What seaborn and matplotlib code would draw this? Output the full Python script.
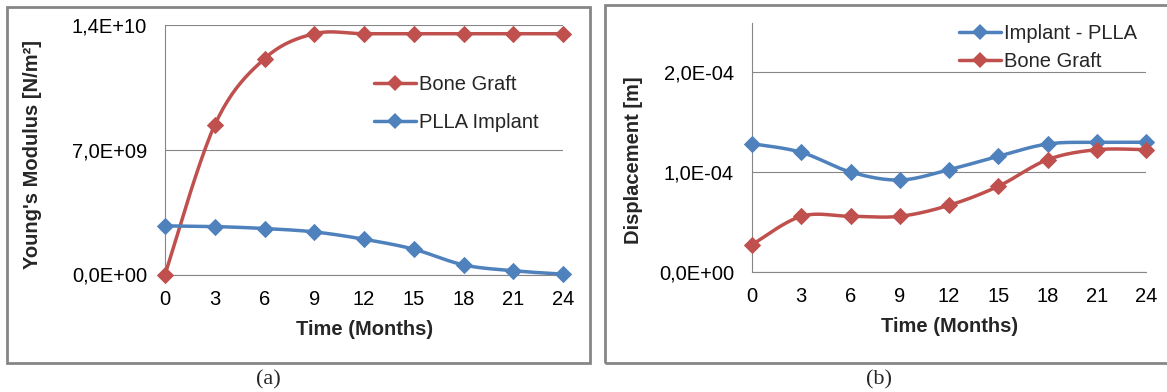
import numpy as np
import pandas as pd
import matplotlib
matplotlib.use("Agg")
import matplotlib.pyplot as plt
from matplotlib.lines import Line2D
from matplotlib.patches import Rectangle
from matplotlib.ticker import FixedLocator, FuncFormatter
import seaborn as sns

# data
months = [0, 3, 6, 9, 12, 15, 18, 21, 24]

# (a) Young's modulus [N/m2]
modulus_bone = [0.0, 8.39e9, 1.211e10, 1.351e10, 1.351e10, 1.351e10, 1.351e10, 1.351e10, 1.351e10]
modulus_plla = [2.73e9, 2.69e9, 2.58e9, 2.39e9, 1.98e9, 1.42e9, 0.54e9, 0.21e9, 0.02e9]

# (b) displacement [m]
disp_implant = [1.283e-4, 1.197e-4, 1.0e-4, 0.92e-4, 1.023e-4, 1.157e-4, 1.28e-4, 1.297e-4, 1.297e-4]
disp_bone = [0.273e-4, 0.557e-4, 0.557e-4, 0.557e-4, 0.667e-4, 0.857e-4, 1.123e-4, 1.223e-4, 1.223e-4]

RED = "#C0504D"
BLUE = "#4F81BD"
GRID = "#868686"

sns.set_theme(style="white")
plt.rcParams['font.family'] = ['Liberation Sans', 'DejaVu Sans']
FS = 14.5


def smooth(x, y, n=24):
    # Excel-style smoothed line: bezier through the points, only for drawing the line
    x = np.asarray(x, float)
    y = np.asarray(y, float)
    px = np.r_[x[0], x, x[-1]]
    py = np.r_[y[0], y, y[-1]]
    t = np.linspace(0, 1, n)[:, None]
    segs = []
    for i in range(len(x) - 1):
        p0 = np.array([px[i], py[i]])
        p1 = np.array([px[i + 1], py[i + 1]])
        p2 = np.array([px[i + 2], py[i + 2]])
        p3 = np.array([px[i + 3], py[i + 3]])
        c1 = p1 + (p2 - p0) / 6
        c2 = p2 - (p3 - p1) / 6
        b = ((1 - t) ** 3) * p1 + 3 * ((1 - t) ** 2) * t * c1 + 3 * (1 - t) * t ** 2 * c2 + t ** 3 * p2
        segs.append(b if i == 0 else b[1:])
    pts = np.vstack(segs)
    return pd.DataFrame({"x": pts[:, 0], "y": pts[:, 1]})


def draw_series(ax, x, y, color):
    sm = smooth(x, y)
    sns.lineplot(data=sm, x="x", y="y", ax=ax, color=color, lw=2.5, sort=False,
                 estimator=None, solid_joinstyle="round", solid_capstyle="round")
    sns.scatterplot(x=x, y=y, ax=ax, color=color, marker="D", s=78, linewidth=0,
                    zorder=5, clip_on=False)


def fmt(v, pos):
    return f"{v:.1E}".replace(".", ",")


def style_axes(ax, yticks, ylim):
    ax.set_xlim(0, 24)
    ax.set_ylim(*ylim)
    ax.xaxis.set_major_locator(FixedLocator(months))
    ax.yaxis.set_major_locator(FixedLocator(yticks))
    ax.yaxis.set_major_formatter(FuncFormatter(fmt))
    ax.grid(axis="y", color=GRID, lw=0.8)
    ax.grid(axis="x", visible=False)
    for s in ["top", "right"]:
        ax.spines[s].set_visible(False)
    for s in ["left", "bottom"]:
        ax.spines[s].set_color(GRID)
        ax.spines[s].set_linewidth(0.8)
    ax.tick_params(axis="x", length=0, pad=11, labelsize=FS, colors="black")
    ax.tick_params(axis="y", length=0, pad=13, labelsize=FS, colors="black")
    ax.set_axisbelow(True)


fig = plt.figure(figsize=(11.67, 3.92), dpi=100)
W, H = 1167, 392

# frames around each panel
fig.add_artist(Rectangle((7 / W, 1 - 363 / H), 583 / W, 356 / H, transform=fig.transFigure,
                         fill=False, edgecolor=GRID, lw=2.0))
fig.add_artist(Rectangle((605 / W, 1 - 363 / H), 600 / W, 358 / H, transform=fig.transFigure,
                         fill=False, edgecolor=GRID, lw=2.0))

# (a)
ax1 = fig.add_axes([165 / W, 1 - 274.5 / H, 398 / W, 249.5 / H])
draw_series(ax1, months, modulus_bone, RED)
draw_series(ax1, months, modulus_plla, BLUE)
style_axes(ax1, [0, 7e9, 1.4e10], (0, 1.4e10))
ax1.set_xlabel("Time (Months)", fontsize=FS, fontweight="bold", va="center")
ax1.xaxis.set_label_coords(0.5025, -0.222)
ax1.set_ylabel("Young's Modulus [N/m²]", fontsize=FS, fontweight="bold", va="center")
ax1.yaxis.set_label_coords(-0.332, 0.479)
h1 = [Line2D([], [], color=RED, lw=2.5, marker="D", ms=8, mew=0),
      Line2D([], [], color=BLUE, lw=2.5, marker="D", ms=8, mew=0)]
ax1.legend(h1, ["Bone Graft", "PLLA Implant"], loc="upper left", frameon=False, fontsize=FS,
           bbox_to_anchor=(374 / W, 1 - 75 / H), bbox_transform=fig.transFigure,
           borderaxespad=0, borderpad=0, handlelength=2.1, handletextpad=0.15, labelspacing=0.95)

# (b)
ax2 = fig.add_axes([752 / W, 1 - 272 / H, 394 / W, 249 / H])
draw_series(ax2, months, disp_implant, BLUE)
draw_series(ax2, months, disp_bone, RED)
style_axes(ax2, [0, 1e-4, 2e-4], (0, 2.49e-4))
ax2.set_xlabel("Time (Months)", fontsize=FS, fontweight="bold", va="center")
ax2.xaxis.set_label_coords(0.5025, -0.217)
ax2.set_ylabel("Displacement [m]", fontsize=FS, fontweight="bold", va="center")
ax2.yaxis.set_label_coords(-0.302, 0.45)
h2 = [Line2D([], [], color=BLUE, lw=2.5, marker="D", ms=8, mew=0),
      Line2D([], [], color=RED, lw=2.5, marker="D", ms=8, mew=0)]
ax2.legend(h2, ["Implant - PLLA", "Bone Graft"], loc="upper left", frameon=False, fontsize=FS,
           bbox_to_anchor=(959 / W, 1 - 24 / H), bbox_transform=fig.transFigure,
           borderaxespad=0, borderpad=0, handlelength=2.1, handletextpad=0.15, labelspacing=0.45)

# captions
fig.text(268 / W, 1 - 380 / H, "(a)", ha="center", va="center", fontsize=16,
         family=["Liberation Serif", "DejaVu Serif"])
fig.text(879 / W, 1 - 380 / H, "(b)", ha="center", va="center", fontsize=16,
         family=["Liberation Serif", "DejaVu Serif"])

fig.savefig("out.png", dpi=100)
